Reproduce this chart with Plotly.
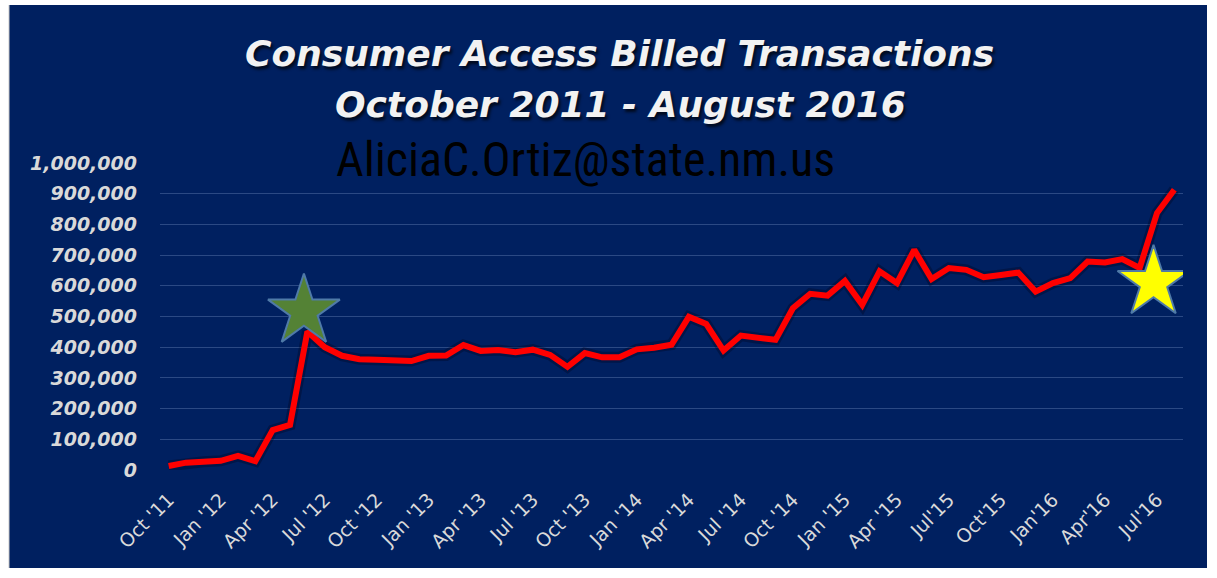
import plotly.graph_objects as go

months = [
    "Oct 2011", "Nov 2011", "Dec 2011",
    "Jan 2012", "Feb 2012", "Mar 2012", "Apr 2012", "May 2012", "Jun 2012",
    "Jul 2012", "Aug 2012", "Sep 2012", "Oct 2012", "Nov 2012", "Dec 2012",
    "Jan 2013", "Feb 2013", "Mar 2013", "Apr 2013", "May 2013", "Jun 2013",
    "Jul 2013", "Aug 2013", "Sep 2013", "Oct 2013", "Nov 2013", "Dec 2013",
    "Jan 2014", "Feb 2014", "Mar 2014", "Apr 2014", "May 2014", "Jun 2014",
    "Jul 2014", "Aug 2014", "Sep 2014", "Oct 2014", "Nov 2014", "Dec 2014",
    "Jan 2015", "Feb 2015", "Mar 2015", "Apr 2015", "May 2015", "Jun 2015",
    "Jul 2015", "Aug 2015", "Sep 2015", "Oct 2015", "Nov 2015", "Dec 2015",
    "Jan 2016", "Feb 2016", "Mar 2016", "Apr 2016", "May 2016", "Jun 2016",
    "Jul 2016", "Aug 2016",
]

transactions = [
    13000, 24000, 27000,
    30000, 46000, 29000, 130000, 147000, 451000,
    400000, 372000, 361000, 359000, 359000, 355000,
    372000, 373000, 407000, 388000, 391000, 384000,
    392000, 375000, 336000, 381000, 367000, 367000,
    393000, 398000, 408000, 499000, 476000, 389000,
    438000, 429000, 424000, 527000, 574000, 568000,
    616000, 538000, 647000, 609000, 717000, 622000,
    658000, 652000, 628000, 635000, 643000, 581000,
    609000, 625000, 679000, 676000, 687000, 658000,
    837000, 913000,
]

tick_labels = [
    "Oct '11", "Jan '12", "Apr '12", "Jul '12", "Oct '12", "Jan '13", "Apr '13",
    "Jul '13", "Oct '13", "Jan '14", "Apr '14", "Jul '14", "Oct '14", "Jan '15",
    "Apr '15", "Jul'15", "Oct'15", "Jan'16", "Apr'16", "Jul'16",
]

# star callouts: (month position, value, fill colour)
star_x = [7.8, 56.8]
star_y = [517000, 610000]
star_colors = ["#548235", "#ffff00"]

NAVY = "#002060"
x_idx = list(range(len(months)))

fig = go.Figure()

# soft shadow under the line
fig.add_trace(go.Scatter(
    x=x_idx, y=transactions, mode="lines",
    line=dict(color="rgba(0,0,20,0.30)", width=11),
    hoverinfo="skip", showlegend=False,
))
fig.add_trace(go.Scatter(
    x=x_idx, y=transactions, mode="lines",
    line=dict(color="#ff0000", width=6),
    text=months, hovertemplate="%{text}: %{y:,}<extra></extra>",
    showlegend=False,
))
fig.add_trace(go.Scatter(
    x=star_x, y=star_y, mode="markers",
    marker=dict(symbol="star", size=54, color=star_colors,
                line=dict(color="#4f7aa8", width=2)),
    hoverinfo="skip", showlegend=False,
))

L, R, T, B = 160, 34, 163, 108
W, H = 1217, 578
pw, ph = W - L - R, H - T - B

def px(xp):
    return (xp - L) / pw

def py(yp):
    return (H - B - yp) / ph

fig.update_layout(
    width=W, height=H,
    margin=dict(l=L, r=R, t=T, b=B, pad=0),
    paper_bgcolor="white",
    plot_bgcolor="rgba(0,0,0,0)",
    shapes=[
        dict(type="rect", xref="paper", yref="paper", layer="below",
             x0=px(9), x1=px(1207), y0=py(568), y1=py(5),
             fillcolor=NAVY, line=dict(width=0)),
        dict(type="line", xref="paper", yref="paper", layer="below",
             x0=px(9), x1=px(9), y0=py(568), y1=py(5),
             line=dict(color="#c8c8c8", width=1)),
    ],
    xaxis=dict(
        range=[-0.5, len(months) - 0.5],
        tickvals=list(range(0, len(months), 3)),
        ticktext=tick_labels,
        tickangle=-45,
        tickfont=dict(family="DejaVu Sans", size=19, color="#d9d9d9"),
        showgrid=False, zeroline=False, showline=False, ticks="",
        ticklabelstandoff=14,
    ),
    yaxis=dict(
        range=[0, 1000000],
        dtick=100000, tick0=0,
        tickformat=",d",
        tickfont=dict(family="DejaVu Sans", size=19, color="#d9d9d9",
                      weight="bold", style="italic"),
        showgrid=True, gridcolor="#2b4984", gridwidth=1,
        zeroline=False, showline=False, ticks="",
        ticklabelstandoff=22,
    ),
    annotations=[
        dict(text="Consumer Access Billed Transactions",
             xref="paper", yref="paper", x=px(619), y=py(53),
             xanchor="center", yanchor="middle", showarrow=False,
             font=dict(family="DejaVu Sans", size=36, color="#f2f2f2",
                       weight="bold", style="italic",
                       shadow="2px 3px 3px rgba(0,0,0,0.7)")),
        dict(text="October 2011 - August 2016",
             xref="paper", yref="paper", x=px(620), y=py(105),
             xanchor="center", yanchor="middle", showarrow=False,
             font=dict(family="DejaVu Sans", size=36, color="#f2f2f2",
                       weight="bold", style="italic",
                       shadow="2px 3px 3px rgba(0,0,0,0.7)")),
        dict(text="AliciaC.Ortiz@state.nm.us",
             xref="paper", yref="paper", x=px(585), y=py(159),
             xanchor="center", yanchor="middle", showarrow=False,
             font=dict(family="Liberation Sans Narrow, Roboto Condensed, Liberation Sans",
                       size=48, color="black")),
    ],
)

fig.write_html("out.html")
